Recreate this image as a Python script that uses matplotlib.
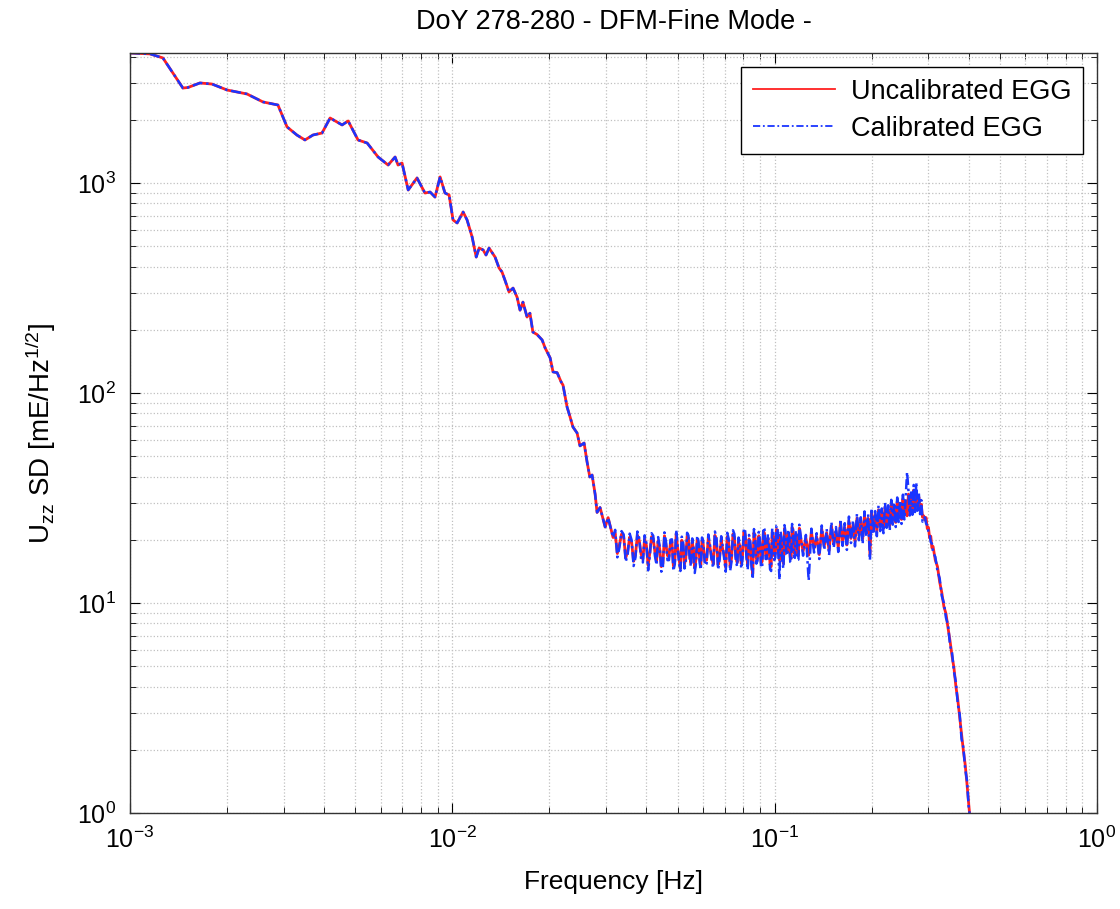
import numpy as np
import matplotlib.pyplot as plt

plt.rcParams['font.family'] = ['Liberation Sans', 'DejaVu Sans']
plt.rcParams['mathtext.fontset'] = 'custom'
plt.rcParams['mathtext.rm'] = 'Liberation Sans'
plt.rcParams['mathtext.it'] = 'Liberation Sans:italic'
plt.rcParams['axes.unicode_minus'] = False

# low frequency part (both curves coincide)
freq_low = [0.00100, 0.001153, 0.001265, 0.001459, 0.001513, 0.001648, 0.001796,
            0.00200, 0.002307, 0.002586, 0.002877, 0.003071, 0.003298, 0.00349,
            0.003697, 0.003943, 0.004176, 0.00455, 0.004751, 0.005099, 0.005443,
            0.005884, 0.00632, 0.006644, 0.006785, 0.006982, 0.007295, 0.00777,
            0.008225, 0.008531, 0.008836, 0.009162, 0.00949, 0.009772]
val_low = [4160, 4120, 3940, 2833, 2850, 2995, 2960, 2773, 2654, 2432, 2352, 1849,
           1690, 1603, 1693, 1730, 2040, 1890, 1974, 1603, 1550, 1330, 1218, 1330,
           1218, 1245, 926, 1057, 896, 906, 857, 1069, 896, 877]

# steep part
freq_steep = [0.01005, 0.01035, 0.0108, 0.01111, 0.01152, 0.01186, 0.01211, 0.01246,
              0.01272, 0.013, 0.01357, 0.01396, 0.01426, 0.01456, 0.01499, 0.01543,
              0.01588, 0.01622, 0.01656, 0.01705, 0.01741, 0.01778, 0.01831, 0.01899,
              0.0194, 0.02011, 0.02053, 0.02114, 0.02175, 0.02205, 0.0227, 0.02319,
              0.02367, 0.02438, 0.02489, 0.02563, 0.02618, 0.0267, 0.02714, 0.02773,
              0.02812, 0.02873, 0.02979, 0.03043, 0.03153]
val_steep = [667, 645, 728, 667, 553, 444, 490, 480, 454, 490, 444, 394, 377, 345, 303,
             316, 286, 248, 271, 230, 240, 195, 190, 179, 164, 147, 126, 125, 113, 109,
             85.7, 76.9, 68.9, 64.5, 56, 57.8, 47, 39.8, 40.7, 33, 27, 28.5, 23.0, 25.5,
             20.5]

# noisy plateau
freq_noise = [0.032, 0.033, 0.034, 0.035, 0.036, 0.037, 0.038, 0.039, 0.040, 0.041,
              0.042, 0.043, 0.044, 0.045, 0.046, 0.047, 0.048, 0.049, 0.050, 0.051,
              0.052, 0.053, 0.054, 0.055, 0.056, 0.057, 0.058, 0.059,
              0.060, 0.0615, 0.063, 0.0645, 0.066, 0.0675, 0.069, 0.0705, 0.072, 0.0735,
              0.075, 0.0765, 0.078, 0.0795, 0.081, 0.0825, 0.084, 0.0855, 0.087, 0.0885,
              0.090, 0.0915, 0.093, 0.0945, 0.096, 0.0975, 0.099, 0.1005, 0.102, 0.1035,
              0.105, 0.1065, 0.108, 0.1095, 0.111, 0.1125, 0.114, 0.1155, 0.117, 0.1185,
              0.1200, 0.1225, 0.1250, 0.1275, 0.1300, 0.1325, 0.1350, 0.1375, 0.1400,
              0.1425, 0.1450, 0.1475, 0.1500, 0.1525, 0.1550, 0.1575, 0.1600, 0.1625,
              0.1650, 0.1675, 0.1700, 0.1725, 0.1750, 0.1775, 0.1800, 0.1825, 0.1850,
              0.1875, 0.1900, 0.1925, 0.1950, 0.1975, 0.2000, 0.2025, 0.2050, 0.2075,
              0.2100, 0.2125, 0.2150, 0.2175, 0.2200, 0.2225, 0.2250, 0.2275, 0.2300,
              0.2325, 0.2350, 0.2375, 0.2400, 0.2425, 0.2450, 0.2475, 0.2500, 0.2525,
              0.2550, 0.2575, 0.2600, 0.2625, 0.2650, 0.2675, 0.2700, 0.2725, 0.2750,
              0.2775, 0.2800, 0.2825, 0.2850, 0.2875]
uncal_noise = [21.5, 19.0, 20.8, 17.6, 19.4, 17.0, 19.9, 16.2, 18.8, 17.4,
               20.3, 15.9, 18.1, 15.4, 19.0, 16.6, 19.6, 15.8, 18.3, 14.6,
               18.9, 16.3, 20.4, 15.5, 18.0, 16.1, 19.2, 15.2,
               19.1, 16.0, 18.4, 15.3, 19.8, 16.7, 18.0, 14.8, 19.5, 16.4,
               20.6, 15.6, 18.7, 16.9, 21.2, 15.1, 19.0, 13.8, 20.3, 16.5,
               19.4, 15.8, 21.5, 16.9, 18.6, 14.9, 20.8, 17.2, 22.3, 16.0,
               19.7, 15.4, 21.0, 17.5, 20.2, 16.3, 22.0, 17.1, 20.5, 16.8,
               21.0, 17.6, 20.4, 16.9, 21.8, 18.2, 20.6, 17.0, 22.5,
               18.7, 21.6, 17.8, 23.3, 19.2, 22.0, 18.4, 24.0, 19.6,
               22.9, 18.9, 24.6, 20.3, 23.7, 19.6, 25.4, 20.9, 24.5,
               20.2, 26.1, 21.8, 25.3, 17.0, 27.0, 22.4, 26.2, 21.9,
               27.8, 23.1, 26.9, 22.6, 28.7, 24.0, 27.9, 23.3, 29.6,
               24.8, 28.8, 24.2, 30.4, 25.5, 29.5, 25.0, 31.4, 26.3,
               30.6, 26.0, 33.0, 27.4, 32.1, 27.6, 34.5, 28.5, 33.2,
               28.9, 32.0, 27.8, 29.5, 25.6]
cal_noise = [22.3, 18.4, 21.2, 17.1, 19.9, 16.5, 20.4, 15.6, 19.3, 16.8,
             20.9, 15.2, 18.6, 14.9, 19.6, 16.0, 20.1, 15.3, 18.8, 14.2,
             19.5, 15.7, 21.0, 14.9, 18.5, 15.5, 19.8, 14.4,
             19.8, 15.4, 18.9, 14.7, 20.5, 16.1, 18.6, 14.1, 20.2, 15.8,
             21.3, 14.9, 19.3, 16.2, 22.0, 14.4, 19.7, 13.0, 21.1, 15.9,
             20.1, 15.0, 22.4, 16.2, 19.2, 14.2, 21.6, 16.5, 23.1, 12.9,
             20.4, 14.6, 21.8, 16.8, 20.9, 15.6, 22.8, 16.4, 21.3, 16.1,
             21.9, 16.8, 21.1, 12.8, 22.6, 17.4, 21.5, 16.2, 23.4,
             17.9, 22.5, 16.9, 24.3, 18.3, 23.0, 17.5, 25.1, 18.7,
             24.0, 17.9, 25.8, 19.3, 24.8, 18.6, 26.6, 19.9, 25.6,
             19.1, 27.3, 20.7, 26.5, 16.0, 28.3, 21.3, 27.4, 20.8,
             29.1, 22.0, 28.2, 21.5, 30.0, 22.8, 29.2, 22.1, 31.0,
             23.6, 30.1, 23.0, 31.8, 24.3, 30.9, 23.8, 32.8, 25.0,
             32.0, 42.0, 34.5, 26.1, 33.6, 26.3, 36.5, 27.1, 37.5,
             27.5, 33.5, 26.5, 30.9, 24.4]

# extra plateau samples between the ones above (0.032 - 0.12 Hz)
freq_fill = [0.0325, 0.0335, 0.0345, 0.0355, 0.0365, 0.0375, 0.0385, 0.0395, 0.0405,
             0.0415, 0.0425, 0.0435, 0.0445, 0.0455, 0.0465, 0.0475, 0.0485, 0.0495,
             0.0505, 0.0515, 0.0525, 0.0535, 0.0545, 0.0555, 0.0565, 0.0575, 0.0585,
             0.0595,
             0.06075, 0.06225, 0.06375, 0.06525, 0.06675, 0.06825, 0.06975, 0.07125,
             0.07275, 0.07425, 0.07575, 0.07725, 0.07875, 0.08025, 0.08175, 0.08325,
             0.08475, 0.08625, 0.08775, 0.08925, 0.09075, 0.09225, 0.09375, 0.09525,
             0.09675, 0.09825, 0.09975, 0.10125, 0.10275, 0.10425, 0.10575, 0.10725,
             0.10875, 0.11025, 0.11175, 0.11325, 0.11475, 0.11625, 0.11775, 0.11925]
uncal_fill = [17.2, 21.3, 16.4, 20.6, 15.8, 21.0, 17.1, 20.2, 15.1, 20.7, 17.5, 19.8,
              14.9, 20.9, 16.8, 19.3, 15.0, 21.4, 16.2, 19.9, 15.3, 20.8, 16.9, 19.5,
              14.7, 20.1, 16.4, 19.7,
              15.9, 20.4, 16.5, 21.0, 15.2, 19.9, 16.9, 20.7, 15.0, 21.3, 16.6, 19.6,
              15.4, 21.8, 17.3, 20.2, 15.7, 21.6, 16.2, 20.9, 15.5, 22.0, 17.0, 20.4,
              15.3, 21.7, 16.8, 22.4, 17.4, 21.1, 16.1, 22.6, 17.8, 21.4, 16.5, 22.9,
              17.6, 21.2, 16.9, 22.7]
cal_fill = [16.5, 22.0, 15.7, 21.4, 15.0, 21.9, 16.3, 21.0, 14.3, 21.5, 16.8, 20.6,
            14.1, 21.7, 16.0, 20.0, 14.2, 22.3, 15.5, 20.7, 14.6, 21.6, 16.1, 20.3,
            13.9, 20.9, 15.6, 20.5,
            15.1, 21.2, 15.8, 21.9, 14.4, 20.8, 16.2, 21.6, 14.2, 22.2, 15.9, 20.5,
            14.6, 22.7, 16.5, 21.1, 14.9, 22.5, 15.4, 21.8, 14.7, 22.9, 16.2, 21.3,
            14.5, 22.6, 16.0, 23.3, 16.6, 22.0, 15.3, 23.5, 17.0, 22.3, 15.7, 23.8,
            16.8, 22.1, 16.1, 23.6]

# roll-off above the peak
freq_drop = [0.2900, 0.2925, 0.2950, 0.2975, 0.3000, 0.3025, 0.3050, 0.3075, 0.3100,
             0.3150, 0.3200, 0.3250, 0.3300, 0.3350, 0.3400, 0.3450, 0.3500, 0.3550,
             0.3600, 0.3650, 0.3700, 0.3750, 0.3800, 0.3850, 0.3900, 0.3950, 0.4000,
             0.4050, 0.4100]
uncal_drop = [26.0, 24.8, 25.5, 22.6, 22.9, 20.4, 20.8, 18.3, 18.6, 16.0, 14.9, 12.6,
              11.2, 9.6, 8.9, 7.6, 6.6, 5.6, 4.9, 4.0, 3.45, 2.85, 2.35, 1.98, 1.70,
              1.38, 1.10, 0.90, 0.72]
cal_drop = [25.2, 25.6, 23.9, 23.4, 21.8, 21.2, 19.5, 19.2, 17.4, 16.6, 14.2, 13.1,
            10.8, 10.0, 8.5, 7.9, 6.3, 5.8, 4.7, 4.2, 3.3, 2.95, 2.25, 2.05, 1.62,
            1.43, 1.06, 0.93, 0.70]

assert len(freq_low) == len(val_low)
assert len(freq_steep) == len(val_steep)
assert len(freq_noise) == len(uncal_noise) == len(cal_noise)
assert len(freq_fill) == len(uncal_fill) == len(cal_fill)
assert len(freq_drop) == len(uncal_drop) == len(cal_drop)

freq = np.array(freq_low + freq_steep + freq_noise + freq_fill + freq_drop)
uncal = np.array(val_low + val_steep + uncal_noise + uncal_fill + uncal_drop)
cal = np.array(val_low + val_steep + cal_noise + cal_fill + cal_drop)
order = np.argsort(freq)
freq, uncal, cal = freq[order], uncal[order], cal[order]

fig = plt.figure(figsize=(11.2, 9.09), dpi=100)
ax = fig.add_axes([130/1120, 1-813/909, (1097-130)/1120, (813-53)/909])

ax.loglog(freq, uncal, color='#ff2020', lw=2.0, label='Uncalibrated EGG')
ax.loglog(freq, cal, color='#1a35ff', lw=1.8, ls=(0, (4, 1.5, 1, 1.5)),
          label='Calibrated EGG')

ax.set_xlim(1e-3, 1)
ax.set_ylim(1, 4160)

ax.grid(True, which='both', color='#c0c0c0', ls=':', lw=0.9)
ax.tick_params(which='both', direction='in', top=True, right=True, labelsize=18)
ax.tick_params(which='major', length=7, pad=10)
ax.tick_params(which='minor', length=4)
for s in ax.spines.values():
    s.set_color('#333333')
    s.set_linewidth(1.0)

ax.set_xlabel('Frequency [Hz]', fontsize=19, labelpad=12)
ax.set_ylabel(r'U$_{\mathregular{zz}}$ SD [mE/Hz$^{\mathregular{1/2}}$]', fontsize=20, labelpad=14)
ax.set_title('DoY 278-280 - DFM-Fine Mode -', fontsize=19.5, pad=17)

leg = ax.legend(loc='upper right', fontsize=19.5, fancybox=False, framealpha=1,
                edgecolor='black', handlelength=3.0, borderaxespad=0.5,
                labelspacing=0.4, handletextpad=0.6, borderpad=0.45)
leg.get_frame().set_linewidth(1.0)
for h in leg.get_lines():
    h.set_linewidth(1.3)

fig.savefig('out.png', dpi=100)
